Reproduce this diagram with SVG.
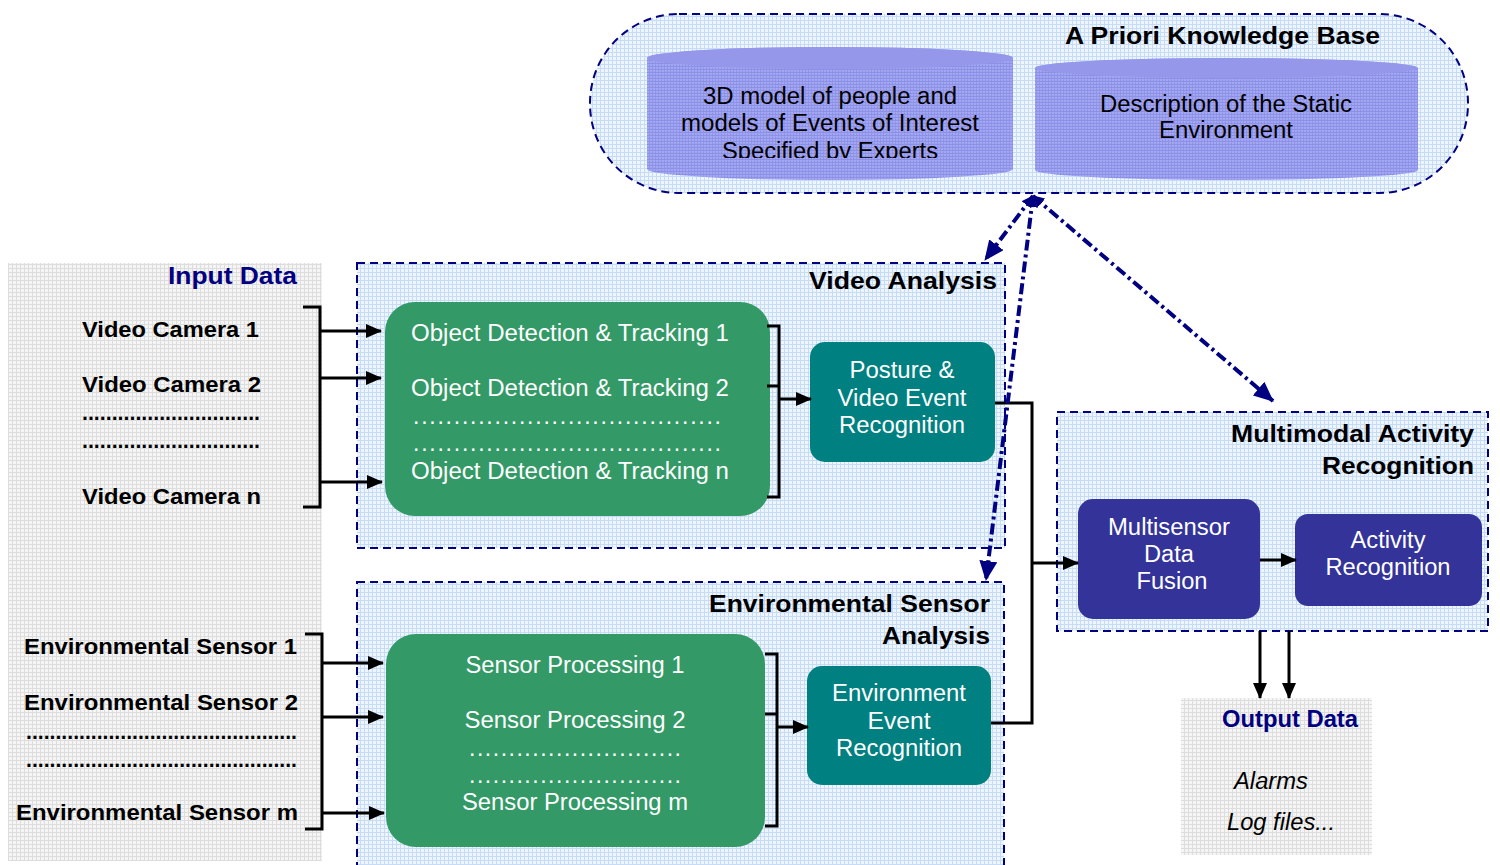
<svg xmlns="http://www.w3.org/2000/svg" width="1500" height="865" viewBox="0 0 1500 865">
  <defs>
    <style>
      .title { font-family: "Liberation Sans", Arial, sans-serif; font-weight: bold; font-size: 24px; fill: #000; }
      .navyT { font-family: "Liberation Sans", Arial, sans-serif; font-weight: bold; font-size: 24px; fill: #000080; }
      .src { font-family: "Liberation Sans", Arial, sans-serif; font-weight: bold; font-size: 22px; fill: #000; }
      .box { font-family: "Liberation Sans", Arial, sans-serif; font-size: 23px; fill: #fff; }
      .kb { font-family: "Liberation Sans", Arial, sans-serif; font-size: 23px; fill: #000; }
      .it { font-family: "Liberation Sans", Arial, sans-serif; font-style: italic; font-size: 23px; fill: #000; }
      .panel { fill: url(#blueGrid); stroke: #000080; stroke-width: 2; stroke-dasharray: 8 5; }
      .gray { fill: url(#grayGrid); }
      .green { fill: #339966; }
      .teal { fill: #008080; }
      .violet { fill: #333399; }
      .wire { fill: none; stroke: #000; stroke-width: 3; }
      .arrow { fill: none; stroke: #000; stroke-width: 3; marker-end: url(#head); }
      .link { fill: none; stroke: #000080; stroke-width: 4; stroke-dasharray: 11 4 3 4; marker-end: url(#navyHead); marker-start: url(#navyTail); }
    </style>
    <pattern id="blueGrid" width="4" height="4" patternUnits="userSpaceOnUse">
      <rect width="4" height="4" fill="#eef5ff"/>
      <path d="M0 0.5H4M0.5 0V4" stroke="#c6dbf6" stroke-width="1"/>
    </pattern>
    <pattern id="grayGrid" width="4" height="4" patternUnits="userSpaceOnUse">
      <rect width="4" height="4" fill="#f5f5f5"/>
      <path d="M0 0.5H4M0.5 0V4" stroke="#dddddd" stroke-width="1"/>
    </pattern>
    <pattern id="drum" width="3" height="3" patternUnits="userSpaceOnUse">
      <rect width="3" height="3" fill="#a3a6f0"/>
      <path d="M0 0.5H3M1.5 1.5V3" stroke="#8c90e6" stroke-width="1"/>
    </pattern>
    <marker id="head" markerUnits="userSpaceOnUse" markerWidth="16" markerHeight="14" refX="15" refY="7" orient="auto">
      <path d="M0 0L16 7L0 14z" fill="#000"/>
    </marker>
    <marker id="navyHead" markerUnits="userSpaceOnUse" markerWidth="20" markerHeight="18" refX="19" refY="9" orient="auto">
      <path d="M0 0L20 9L0 18z" fill="#000080"/>
    </marker>
    <marker id="navyTail" markerUnits="userSpaceOnUse" markerWidth="12" markerHeight="12" refX="1" refY="6" orient="auto">
      <path d="M12 0L0 6L12 12z" fill="#000080"/>
    </marker>
    <clipPath id="drumText">
      <rect x="647" y="70" width="366" height="88"/>
    </clipPath>
  </defs>

  <rect width="1500" height="865" fill="#fff"/>

  <!-- knowledge base -->
  <g id="knowledge-base">
    <rect x="590" y="14" width="878" height="179" rx="89" ry="89" class="panel"/>
    <text x="1380" y="44" class="title" text-anchor="end" textLength="315" lengthAdjust="spacingAndGlyphs">A Priori Knowledge Base</text>
  </g>
  <g id="kb-people-events">
    <path d="M647 58A183 11 0 0 1 1013 58V169A183 11 0 0 1 647 169Z" fill="url(#drum)"/>
    <ellipse cx="830" cy="58" rx="183" ry="11" fill="#9598ea"/>
    <g clip-path="url(#drumText)">
      <text x="830" y="104" class="kb" text-anchor="middle" textLength="254" lengthAdjust="spacingAndGlyphs">3D model of people and</text>
      <text x="830" y="131" class="kb" text-anchor="middle" textLength="298" lengthAdjust="spacingAndGlyphs">models of Events of Interest</text>
      <text x="830" y="159" class="kb" text-anchor="middle" textLength="216" lengthAdjust="spacingAndGlyphs">Specified by Experts</text>
    </g>
  </g>
  <g id="kb-static-env">
    <path d="M1035 68A191 10 0 0 1 1418 68V170A191 10 0 0 1 1035 170Z" fill="url(#drum)"/>
    <ellipse cx="1226" cy="68" rx="191" ry="10" fill="#9598ea"/>
    <text x="1226" y="112" class="kb" text-anchor="middle" textLength="252" lengthAdjust="spacingAndGlyphs">Description of the Static</text>
    <text x="1226" y="138" class="kb" text-anchor="middle" textLength="134" lengthAdjust="spacingAndGlyphs">Environment</text>
  </g>

  <!-- input data -->
  <g id="input-data">
    <rect x="8" y="263" width="314" height="598" class="gray"/>
    <text x="297" y="284" class="navyT" text-anchor="end" textLength="129" lengthAdjust="spacingAndGlyphs">Input Data</text>
    <text x="82" y="337" class="src" textLength="177" lengthAdjust="spacingAndGlyphs">Video Camera 1</text>
    <text x="82" y="392" class="src" textLength="179" lengthAdjust="spacingAndGlyphs">Video Camera 2</text>
    <text x="82" y="420" class="src" textLength="178" lengthAdjust="spacingAndGlyphs">..............................</text>
    <text x="82" y="448" class="src" textLength="178" lengthAdjust="spacingAndGlyphs">..............................</text>
    <text x="82" y="504" class="src" textLength="179" lengthAdjust="spacingAndGlyphs">Video Camera n</text>
    <text x="24" y="654" class="src" textLength="273" lengthAdjust="spacingAndGlyphs">Environmental Sensor 1</text>
    <text x="24" y="710" class="src" textLength="274" lengthAdjust="spacingAndGlyphs">Environmental Sensor 2</text>
    <text x="26" y="739" class="src" textLength="271" lengthAdjust="spacingAndGlyphs">..............................................</text>
    <text x="26" y="767" class="src" textLength="271" lengthAdjust="spacingAndGlyphs">..............................................</text>
    <text x="16" y="820" class="src" textLength="282" lengthAdjust="spacingAndGlyphs">Environmental Sensor m</text>
  </g>

  <!-- video analysis -->
  <g id="video-analysis">
    <rect x="357" y="263" width="648" height="285" class="panel"/>
    <text x="997" y="289" class="title" text-anchor="end" textLength="188" lengthAdjust="spacingAndGlyphs">Video Analysis</text>
  </g>
  <g id="object-tracking">
    <rect x="385" y="302" width="385" height="214" rx="30" class="green"/>
    <text x="411" y="341" class="box" textLength="318" lengthAdjust="spacingAndGlyphs">Object Detection &amp; Tracking 1</text>
    <text x="411" y="396" class="box" textLength="318" lengthAdjust="spacingAndGlyphs">Object Detection &amp; Tracking 2</text>
    <text x="413" y="424" class="box" textLength="308" lengthAdjust="spacing">......................................</text>
    <text x="413" y="451" class="box" textLength="308" lengthAdjust="spacing">......................................</text>
    <text x="411" y="479" class="box" textLength="318" lengthAdjust="spacingAndGlyphs">Object Detection &amp; Tracking n</text>
  </g>
  <g id="posture-recognition">
    <rect x="810" y="342" width="185" height="120" rx="15" class="teal"/>
    <text x="902" y="378" class="box" text-anchor="middle" textLength="105" lengthAdjust="spacingAndGlyphs">Posture &amp;</text>
    <text x="902" y="406" class="box" text-anchor="middle" textLength="129" lengthAdjust="spacingAndGlyphs">Video Event</text>
    <text x="902" y="433" class="box" text-anchor="middle" textLength="126" lengthAdjust="spacingAndGlyphs">Recognition</text>
  </g>

  <!-- environmental sensor analysis -->
  <g id="env-analysis">
    <rect x="357" y="582" width="647" height="290" class="panel"/>
    <text x="990" y="612" class="title" text-anchor="end" textLength="281" lengthAdjust="spacingAndGlyphs">Environmental Sensor</text>
    <text x="990" y="644" class="title" text-anchor="end" textLength="108" lengthAdjust="spacingAndGlyphs">Analysis</text>
  </g>
  <g id="sensor-processing">
    <rect x="386" y="634" width="379" height="213" rx="30" class="green"/>
    <text x="575" y="673" class="box" text-anchor="middle" textLength="219" lengthAdjust="spacingAndGlyphs">Sensor Processing 1</text>
    <text x="575" y="728" class="box" text-anchor="middle" textLength="221" lengthAdjust="spacingAndGlyphs">Sensor Processing 2</text>
    <text x="575" y="756" class="box" text-anchor="middle" textLength="212" lengthAdjust="spacing">...........................</text>
    <text x="575" y="783" class="box" text-anchor="middle" textLength="212" lengthAdjust="spacing">...........................</text>
    <text x="575" y="810" class="box" text-anchor="middle" textLength="226" lengthAdjust="spacingAndGlyphs">Sensor Processing m</text>
  </g>
  <g id="env-event-recognition">
    <rect x="807" y="666" width="184" height="119" rx="15" class="teal"/>
    <text x="899" y="701" class="box" text-anchor="middle" textLength="134" lengthAdjust="spacingAndGlyphs">Environment</text>
    <text x="899" y="729" class="box" text-anchor="middle" textLength="63" lengthAdjust="spacingAndGlyphs">Event</text>
    <text x="899" y="756" class="box" text-anchor="middle" textLength="126" lengthAdjust="spacingAndGlyphs">Recognition</text>
  </g>

  <!-- multimodal activity recognition -->
  <g id="multimodal">
    <rect x="1057" y="412" width="431" height="219" class="panel"/>
    <text x="1474" y="442" class="title" text-anchor="end" textLength="243" lengthAdjust="spacingAndGlyphs">Multimodal Activity</text>
    <text x="1474" y="474" class="title" text-anchor="end" textLength="152" lengthAdjust="spacingAndGlyphs">Recognition</text>
  </g>
  <g id="data-fusion">
    <rect x="1078" y="499" width="182" height="120" rx="15" class="violet"/>
    <text x="1169" y="535" class="box" text-anchor="middle" textLength="122" lengthAdjust="spacingAndGlyphs">Multisensor</text>
    <text x="1169" y="562" class="box" text-anchor="middle" textLength="50" lengthAdjust="spacingAndGlyphs">Data</text>
    <text x="1172" y="589" class="box" text-anchor="middle" textLength="71" lengthAdjust="spacingAndGlyphs">Fusion</text>
  </g>
  <g id="activity-recognition">
    <rect x="1295" y="514" width="187" height="92" rx="13" class="violet"/>
    <text x="1388" y="548" class="box" text-anchor="middle" textLength="75" lengthAdjust="spacingAndGlyphs">Activity</text>
    <text x="1388" y="575" class="box" text-anchor="middle" textLength="125" lengthAdjust="spacingAndGlyphs">Recognition</text>
  </g>

  <!-- output data -->
  <g id="output-data">
    <rect x="1181" y="698" width="191" height="157" class="gray"/>
    <text x="1290" y="727" class="navyT" text-anchor="middle" textLength="136" lengthAdjust="spacingAndGlyphs">Output Data</text>
    <text x="1234" y="789" class="it" textLength="74" lengthAdjust="spacingAndGlyphs">Alarms</text>
    <text x="1227" y="830" class="it" textLength="108" lengthAdjust="spacingAndGlyphs">Log files...</text>
  </g>

  <!-- connectors -->
  <g id="connectors">
    <!-- camera bracket -->
    <path d="M303 307H320V507H303" class="wire"/>
    <path d="M320 331H381" class="arrow"/>
    <path d="M320 378H381" class="arrow"/>
    <path d="M320 482H382" class="arrow"/>
    <!-- sensor bracket -->
    <path d="M305 634H322V829H305" class="wire"/>
    <path d="M322 663H383" class="arrow"/>
    <path d="M322 717H383" class="arrow"/>
    <path d="M322 813H384" class="arrow"/>
    <!-- tracking outputs -->
    <path d="M767 326H779V497H767M767 386H779" class="wire"/>
    <path d="M779 399H811" class="arrow"/>
    <!-- sensor processing outputs -->
    <path d="M765 654H777V826H765M765 714H777" class="wire"/>
    <path d="M777 727H808" class="arrow"/>
    <!-- event recognitions to fusion -->
    <path d="M995 403H1032V723H991" class="wire"/>
    <path d="M1032 563H1078" class="arrow"/>
    <!-- fusion to activity -->
    <path d="M1260 560H1296" class="arrow"/>
    <!-- outputs -->
    <path d="M1260 631V698" class="arrow"/>
    <path d="M1289 631V698" class="arrow"/>
    <!-- knowledge base links -->
    <path d="M1033 196L985 260" class="link"/>
    <path d="M1033 196L986 580" class="link"/>
    <path d="M1033 196L1273 401" class="link"/>
  </g>
</svg>
